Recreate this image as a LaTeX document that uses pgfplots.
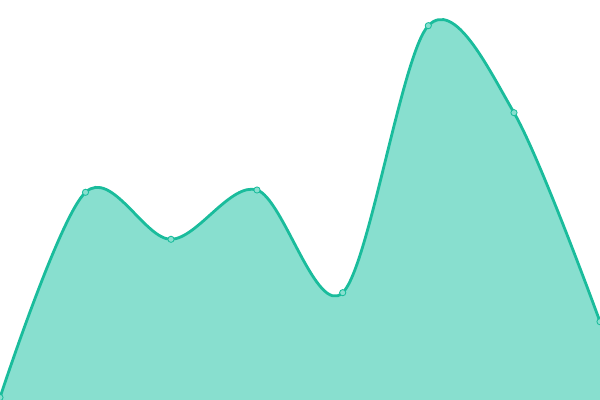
\documentclass[border=0pt]{standalone}
\usepackage{pgfplots}
\pgfplotsset{compat=1.18}
\definecolor{lineC}{HTML}{1ABC9C}
\definecolor{fillC}{HTML}{88DFCF}
\begin{document}
\begin{tikzpicture}
\useasboundingbox (0,0) rectangle (15cm,10cm);
\begin{axis}[
  scale only axis, width=15cm, height=10cm,
  xmin=0, xmax=600, ymin=0, ymax=400,
  hide axis, clip=true, clip marker paths=true,
  at={(0,0)}, anchor=south west,
]
\addplot[draw=none, fill=fillC, smooth, tension=0.55] coordinates {
(0,2.5) (85.5,207.7) (171,160.7) (257,210) (342.7,107.3) (428.3,374.3) (514,287.3) (600,78.3)
} \closedcycle;
\addplot[lineC, line width=2pt, smooth, tension=0.55,
  mark=*, mark options={fill=fillC, draw=lineC, line width=0.6pt}, mark size=2.2pt] coordinates {
(0,2.5) (85.5,207.7) (171,160.7) (257,210) (342.7,107.3) (428.3,374.3) (514,287.3) (600,78.3)
};
\end{axis}
\end{tikzpicture}
\end{document}
